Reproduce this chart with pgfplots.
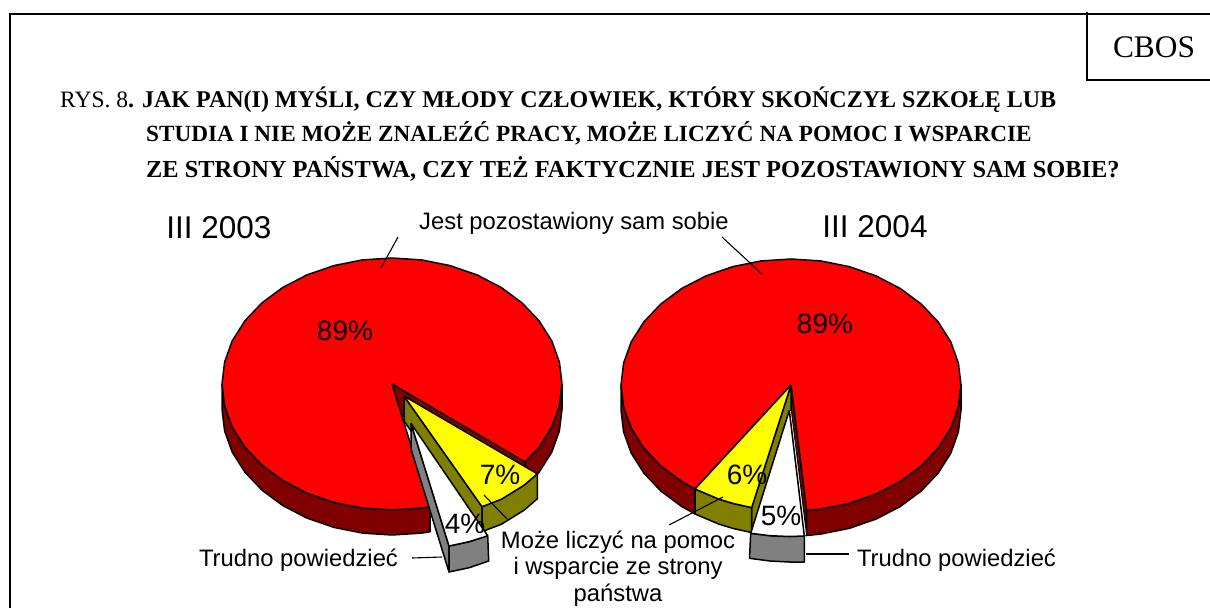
\documentclass[border=0pt]{standalone}
\usepackage{fontspec}
\setmainfont{Liberation Sans}
\newfontfamily\serif{Liberation Serif}
\usepackage{pgfplots}
\pgfplotsset{compat=1.18}
\definecolor{pr}{RGB}{255,0,0}
\definecolor{pdr}{RGB}{128,0,0}
\definecolor{py}{RGB}{255,255,0}
\definecolor{pol}{RGB}{128,128,0}
\definecolor{pgr}{RGB}{128,128,128}
\newcommand{\fs}[1]{\fontsize{#1}{#1}\selectfont}
\begin{document}
\begin{tikzpicture}[x=1pt,y=1pt]
\path[use as bounding box] (0,0) rectangle (1210pt,608pt);
\begin{axis}[at={(0,0)},anchor=south west,scale only axis,width=1210pt,height=608pt,
  xmin=0,xmax=1210,ymin=0,ymax=608,y dir=reverse,hide axis]
\pgfplotsset{pie/.style={draw=black,line width=1.5pt,line join=round}}
% frame
\addplot[black,line width=2.2pt] coordinates {(10,608)(10,14)(1210,14)};
\addplot[black,line width=2.2pt] coordinates {(1087,12)(1087,80)(1210,80)};
% ---- left pie
\addplot[pie,fill=pdr] coordinates {(392,384)(392,409)(525,487)(525,462)(392,384)};
\addplot[pie,fill=pdr] coordinates {(222,384)(224.6,405.9)(232.2,427.1)(244.8,447)(261.8,465)(282.7,480.5)(307,493.1)(333.9,502.4)(362.5,508.1)(392,510)(421.5,508.1)(430,506.8)(430,531.8)(421.5,533.1)(392,535)(362.5,533.1)(333.9,527.4)(307,518.1)(282.7,505.5)(261.8,490)(244.8,472)(232.2,452.1)(224.6,430.9)(222,409)(222,384)};
\addplot[pie,fill=pdr] coordinates {(562,384)(559.4,405.9)(551.8,427.1)(539.2,447)(525,462)(525,487)(539.2,472)(551.8,452.1)(559.4,430.9)(562,409)(562,384)};
\addplot[pie,fill=pr] coordinates {(392,384)(525,462)(539.2,447)(551.8,427.1)(559.4,405.9)(562,384)(559.4,362.1)(551.8,340.9)(539.2,321)(522.2,303)(501.3,287.5)(477,274.9)(450.1,265.6)(421.5,259.9)(392,258)(362.5,259.9)(333.9,265.6)(307,274.9)(282.7,287.5)(261.8,303)(244.8,321)(232.2,340.9)(224.6,362.1)(222,384)(224.6,405.9)(232.2,427.1)(244.8,447)(261.8,465)(282.7,480.5)(307,493.1)(333.9,502.4)(362.5,508.1)(392,510)(421.5,508.1)(430,506.8)(392,384)};
\addplot[pie,fill=pol] coordinates {(404,396)(482,506.7)(482,531.7)(404,421)(404,396)};
\addplot[pie,fill=pol] coordinates {(482,506.7)(501.5,499.2)(524.2,485.1)(537.3,473.8)(537.3,498.8)(524.2,510.1)(501.5,524.2)(482,531.7)(482,506.7)};
\addplot[pie,fill=py] coordinates {(404,396)(482,506.7)(501.5,499.2)(524.2,485.1)(537.3,473.8)(404,396)};
\addplot[pie,fill=pgr] coordinates {(411,423.3)(449,546)(449,572)(411,449)(411,423.3)};
\addplot[pie,fill=pgr] coordinates {(449,546)(469.1,541.7)(487.7,535.8)(488.7,561)(469.1,567.7)(449,572)(449,546)};
\addplot[pie,fill=white] coordinates {(411,423.3)(449,546)(469.1,541.7)(487.7,535.8)(411,423.3)};
% ---- right pie
\addplot[pie,fill=pdr] coordinates {(791,385)(806.7,510.5)(806.7,535.5)(791,410)(791,385)};
\addplot[pie,fill=pdr] coordinates {(806.7,510.5)(820.5,509.1)(849.1,503.4)(876,494.1)(900.3,481.5)(921.2,466)(938.2,448)(950.8,428.1)(958.4,406.9)(961,385)(961,410)(958.4,431.9)(950.8,453.1)(938.2,473)(921.2,491)(900.3,506.5)(876,519.1)(849.1,528.4)(820.5,534.1)(806.7,535.5)(806.7,510.5)};
\addplot[pie,fill=pdr] coordinates {(621,385)(623.6,406.9)(631.2,428.1)(643.8,448)(660.8,466)(681.7,481.5)(695,489)(695,514)(681.7,506.5)(660.8,491)(643.8,473)(631.2,453.1)(623.6,431.9)(621,410)(621,385)};
\addplot[pie,fill=pr] coordinates {(791,385)(806.7,510.5)(820.5,509.1)(849.1,503.4)(876,494.1)(900.3,481.5)(921.2,466)(938.2,448)(950.8,428.1)(958.4,406.9)(961,385)(958.4,363.1)(950.8,341.9)(938.2,322)(921.2,304)(900.3,288.5)(876,275.9)(849.1,266.6)(820.5,260.9)(791,259)(761.5,260.9)(732.9,266.6)(706,275.9)(681.7,288.5)(660.8,304)(643.8,322)(631.2,341.9)(623.6,363.1)(621,385)(623.6,406.9)(631.2,428.1)(643.8,448)(660.8,466)(681.7,481.5)(695,489)(791,385)};
\addplot[pie,fill=pol] coordinates {(791,385)(751.7,507.6)(751.7,532.6)(791,410)(791,385)};
\addplot[pie,fill=pol] coordinates {(695,489)(719.1,499.2)(732.9,503.4)(751.7,507.6)(751.7,532.6)(732.9,528.4)(719.1,524.2)(695,514)(695,489)};
\addplot[pie,fill=py] coordinates {(791,385)(695,489)(719.1,499.2)(732.9,503.4)(751.7,507.6)(791,385)};
\addplot[pie,fill=pgr] coordinates {(750.7,533.3)(770,535.7)(789.3,536.5)(804.3,536)(804.3,562)(789.3,562)(770,561)(749.5,558.3)(750.7,533.3)};
\addplot[pie,fill=white,line width=0.8pt] coordinates {(789.3,410.5)(804.3,536)(806.6,535.5)(791.3,410.5)(789.3,410.5)};
\addplot[pie,fill=white] coordinates {(789.3,410.5)(750.7,533.3)(770,535.7)(789.3,536.5)(804.3,536)(789.3,410.5)};
% leader lines
\addplot[black,line width=1.1pt] coordinates {(398,237)(381,268)};
\addplot[black,line width=1.1pt] coordinates {(722,237)(762,274)};
\addplot[black,line width=1.1pt] coordinates {(412,558)(442,557)};
\addplot[black,line width=1.1pt] coordinates {(484,495)(507,519)};
\addplot[black,line width=1.1pt] coordinates {(723,497)(669,525)};
\addplot[black,line width=1.1pt] coordinates {(806,554)(849,554)};
% text
\node[anchor=center,font=\serif\fs{31.4}] at (axis cs:1154,47) {CBOS};
\node[anchor=west,inner sep=0pt,font=\serif\fs{23.5}] at (axis cs:60,100) {RYS. 8{\bfseries\fs{24}. JAK PAN(I) MYŚLI, CZY MŁODY CZŁOWIEK, KTÓRY SKOŃCZYŁ SZKOŁĘ LUB}};
\node[anchor=west,inner sep=0pt,font=\serif\bfseries\fs{23.2}] at (axis cs:146,133) {STUDIA I NIE MOŻE ZNALEŹĆ PRACY, MOŻE LICZYĆ NA POMOC I WSPARCIE};
\node[anchor=west,inner sep=0pt,font=\serif\bfseries\fs{24.4}] at (axis cs:146,169) {ZE STRONY PAŃSTWA, CZY TEŻ FAKTYCZNIE JEST POZOSTAWIONY SAM SOBIE?};
\node[font=\fs{31.5}] at (axis cs:219,228) {III 2003};
\node[font=\fs{31.5}] at (axis cs:875,227) {III 2004};
\node[font=\fs{23.8}] at (axis cs:574,223) {Jest pozostawiony sam sobie};
\node[font=\fs{28}] at (axis cs:345,331) {89\%};
\node[font=\fs{28}] at (axis cs:825,324) {89\%};
\node[font=\fs{28}] at (axis cs:500,475) {7\%};
\node[font=\fs{28}] at (axis cs:465,524) {4\%};
\node[font=\fs{28}] at (axis cs:747,475) {6\%};
\node[font=\fs{28}] at (axis cs:781,516) {5\%};
\node[font=\fs{23.8}] at (axis cs:298.5,560.5) {Trudno powiedzieć};
\node[font=\fs{23.8}] at (axis cs:956.5,560.5) {Trudno powiedzieć};
\node[font=\fs{23.8}] at (axis cs:618,542) {Może liczyć na pomoc};
\node[font=\fs{23.8}] at (axis cs:618,568) {i wsparcie ze strony};
\node[font=\fs{23.8}] at (axis cs:618,595) {państwa};
\end{axis}
\end{tikzpicture}
\end{document}
